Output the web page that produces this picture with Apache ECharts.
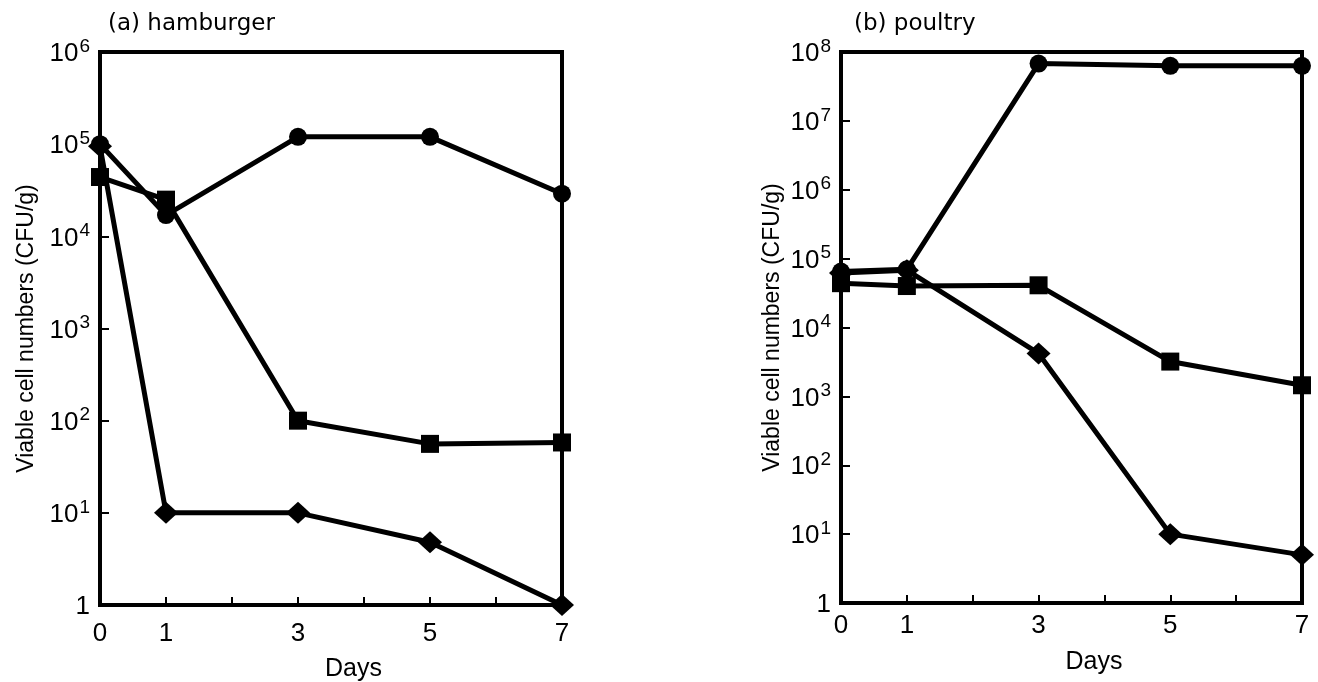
<!DOCTYPE html>
<html>
<head>
<meta charset="utf-8">
<script src="https://cdn.jsdelivr.net/npm/echarts@6/dist/echarts.min.js"></script>
<style>
html,body{margin:0;padding:0;background:#fff;}
#c{width:1318px;height:682px;}
</style>
</head>
<body>
<div id="c"></div>
<script>
// ---- data ----
const days = [0, 1, 3, 5, 7];
const xTickLabels = [0, 1, 3, 5, 7];
const hamburgerCircle  = [1.0e5, 1.7e4, 1.2e5, 1.2e5, 2.9e4];
const hamburgerSquare  = [4.4e4, 2.5e4, 1.0e2, 56, 58];
const hamburgerDiamond = [9.5e4, 10, 10, 4.8, 1];
const poultryCircle  = [6.5e4, 7.0e4, 6.8e7, 6.3e7, 6.3e7];
const poultrySquare  = [4.4e4, 4.0e4, 4.1e4, 3.2e3, 1.45e3];
const poultryDiamond = [6.2e4, 6.8e4, 4.2e3, 10, 5];
const titles = ['(a) hamburger', '(b) poultry'];
const yName = 'Viable cell numbers (CFU/g)';
const xName = 'Days';

const pairs = arr => arr.map((v, i) => [days[i], v]);
const NUM = 'Liberation Sans, Arial, sans-serif';

function yLabel(v) {
  const n = Math.round(Math.log10(v));
  return n === 0 ? '{b|1}' : '{b|10}{s|' + n + '}';
}

function xAxisCfg(gridIndex, gap, labelMargin) {
  return {
    gridIndex, type: 'value', min: 0, max: 7, interval: 1,
    name: xName, nameLocation: 'middle', nameGap: gap,
    nameTextStyle: {fontFamily: NUM, fontSize: 25, color: '#000', padding: [0, 0, 0, 45]},
    axisLine: {lineStyle: {color: '#000', width: 4}},
    axisTick: {inside: true, length: 8, lineStyle: {color: '#000', width: 2}},
    splitLine: {show: false},
    axisLabel: {
      margin: labelMargin, color: '#000', fontFamily: NUM, fontSize: 26,
      formatter: v => xTickLabels.indexOf(v) >= 0 ? String(v) : ''
    }
  };
}
function yAxisCfg(gridIndex, max, split, gap) {
  return {
    gridIndex, type: 'log', logBase: 10, min: 1, max: max, splitNumber: split,
    name: yName, nameLocation: 'middle', nameGap: gap,
    nameTextStyle: {fontFamily: NUM, fontSize: 23, color: '#000'},
    axisLine: {lineStyle: {color: '#000', width: 4}},
    axisTick: {inside: true, length: 9, lineStyle: {color: '#000', width: 2}},
    splitLine: {show: false},
    axisLabel: {
      margin: 10, color: '#000', formatter: yLabel,
      rich: {
        b: {fontFamily: NUM, fontSize: 26, color: '#000', verticalAlign: 'bottom', lineHeight: 30},
        s: {fontFamily: NUM, fontSize: 19, color: '#000', verticalAlign: 'top', lineHeight: 30, padding: [0, 0, 0, 1]}
      }
    }
  };
}
function ser(idx, data, symbol, size, z) {
  return {
    type: 'line', xAxisIndex: idx, yAxisIndex: idx, data: pairs(data),
    symbol: symbol, symbolSize: size, showSymbol: true, clip: false, z: z,
    lineStyle: {color: '#000', width: 5},
    itemStyle: {color: '#000', borderWidth: 0},
    emphasis: {disabled: true}
  };
}

const chart = echarts.init(document.getElementById('c'));
chart.setOption({
  animation: false,
  backgroundColor: '#fff',
  title: [
    {text: titles[0], left: 103, top: 8, textStyle: {fontFamily: 'DejaVu Sans', fontSize: 23, fontWeight: 'normal', color: '#000'}},
    {text: titles[1], left: 849, top: 8, textStyle: {fontFamily: 'DejaVu Sans', fontSize: 23, fontWeight: 'normal', color: '#000'}}
  ],
  grid: [
    {left: 100, right: 756, top: 52, bottom: 77, show: true, borderColor: '#000', borderWidth: 4, outerBoundsMode: 'none', containLabel: false},
    {left: 841, right: 16, top: 52, bottom: 79, show: true, borderColor: '#000', borderWidth: 4, outerBoundsMode: 'none', containLabel: false}
  ],
  xAxis: [xAxisCfg(0, 52, 16), xAxisCfg(1, 47, 10)],
  yAxis: [yAxisCfg(0, 1e6, 6, 62), yAxisCfg(1, 1e8, 8, 57)],
  series: [
    ser(0, hamburgerCircle, 'circle', 18, 2),
    ser(0, hamburgerSquare, 'rect', 18, 3),
    ser(0, hamburgerDiamond, 'diamond', [24, 22], 4),
    ser(1, poultryCircle, 'circle', 18, 2),
    ser(1, poultrySquare, 'rect', 18, 3),
    ser(1, poultryDiamond, 'diamond', [24, 22], 4)
  ]
});
</script>
</body>
</html>
